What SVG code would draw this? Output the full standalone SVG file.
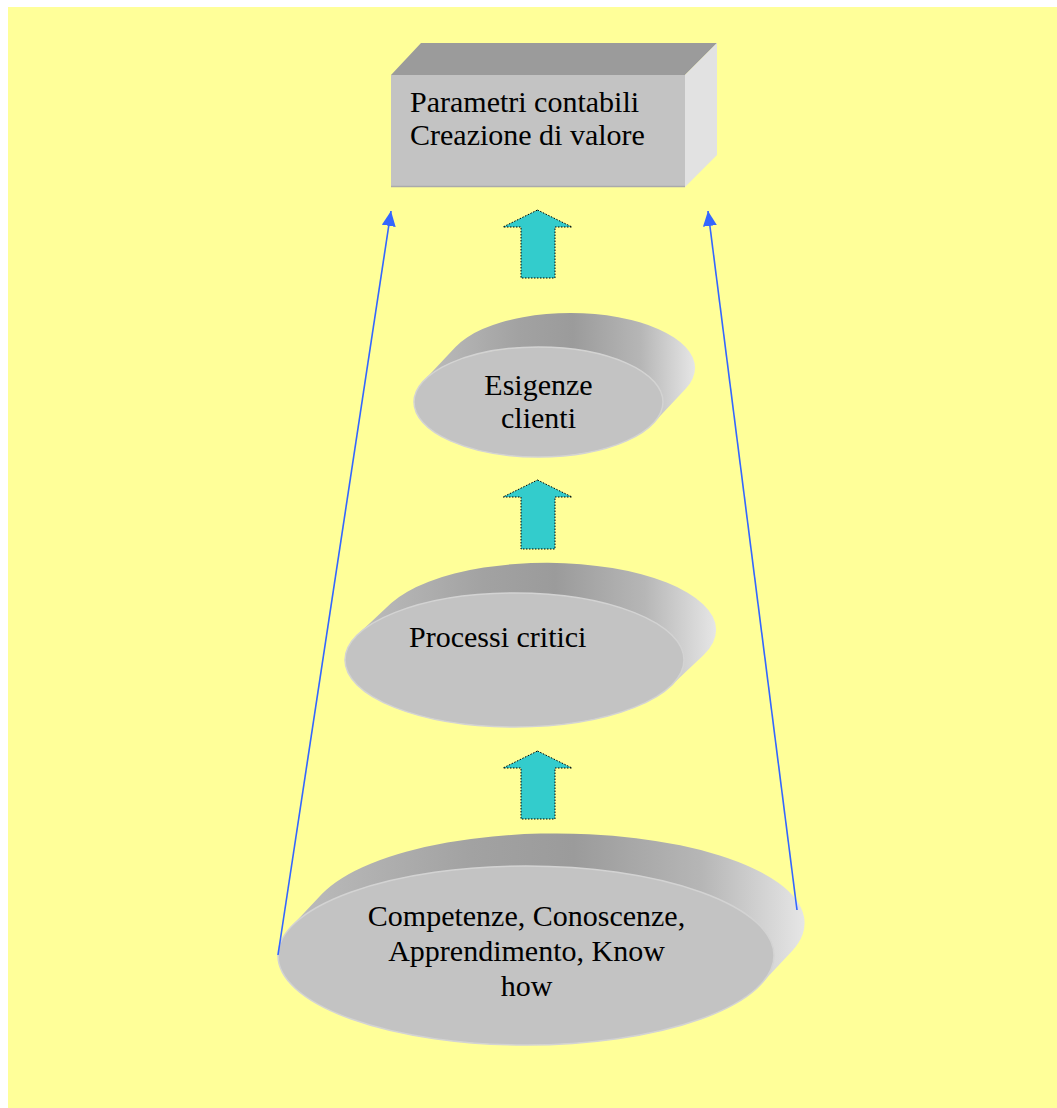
<svg xmlns="http://www.w3.org/2000/svg" width="1057" height="1108" viewBox="0 0 1057 1108">
  <style>
    .label { font-family: "Liberation Serif", "Times New Roman", serif; font-size: 30px; fill: #000000; }
    .mid { text-anchor: middle; }
    .side { fill: url(#sideShade); }
    .face { fill: #c3c3c3; stroke: #d3d3d3; stroke-width: 1.5; }
    .step { fill: #33cccc; stroke: #000000; stroke-width: 1; stroke-dasharray: 1.5 1.5; }
    .link { stroke: #3366ff; stroke-width: 1.6; fill: none; marker-end: url(#tip); }
  </style>
  <defs>
    <linearGradient id="sideShade" x1="0" y1="0" x2="1" y2="0">
      <stop offset="0" stop-color="#bcbcbc"/>
      <stop offset="0.35" stop-color="#a2a2a2"/>
      <stop offset="0.55" stop-color="#9b9b9b"/>
      <stop offset="0.8" stop-color="#b6b6b6"/>
      <stop offset="1" stop-color="#e6e6e6"/>
    </linearGradient>
    <marker id="tip" markerUnits="userSpaceOnUse" markerWidth="16" markerHeight="14" refX="15" refY="7" orient="auto">
      <path d="M0,0 L15,7 L0,14 Z" fill="#3366ff"/>
    </marker>
  </defs>

  <!-- background panel -->
  <rect x="0" y="0" width="1057" height="1108" fill="#ffffff"/>
  <rect x="8" y="7" width="1049" height="1101" fill="#ffff99"/>

  <!-- result block -->
  <g id="node-parametri">
    <polygon points="391,75 421,43 717,43 685,75" fill="#9b9b9b"/>
    <polygon points="685,75 717,43 717,155 685,187" fill="#e2e2e2"/>
    <rect x="391" y="75" width="294" height="112" fill="#c3c3c3"/>
    <line x1="391" y1="186.5" x2="685" y2="186.5" stroke="#aaaaaa" stroke-width="1.5"/>
    <text class="label" x="410" y="112">Parametri contabili</text>
    <text class="label" x="410" y="145">Creazione di valore</text>
  </g>

  <!-- customer needs disk -->
  <g id="node-esigenze">
    <path class="side" d="M423.5,380.9 L455.5,346.9 A124.5,55 0 0 1 685.5,389.1 L653.5,423.1 A124.5,55 0 0 0 423.5,380.9 Z"/>
    <ellipse class="face" cx="538.5" cy="402" rx="124.5" ry="55"/>
    <text class="label mid" x="538.5" y="395">Esigenze</text>
    <text class="label mid" x="538.5" y="428">clienti</text>
  </g>

  <!-- critical processes disk -->
  <g id="node-processi">
    <path class="side" d="M358.3,634 L391.3,603 A169.5,67 0 0 1 703.7,655 L670.7,686 A169.5,67 0 0 0 358.3,634 Z"/>
    <ellipse class="face" cx="514.5" cy="660" rx="169.5" ry="67"/>
    <text class="label" x="409" y="647">Processi critici</text>
  </g>

  <!-- competences disk -->
  <g id="node-competenze">
    <path class="side" d="M291.1,926.8 L322.1,893.8 A248,89.5 0 0 1 791.9,951.2 L760.9,984.2 A248,89.5 0 0 0 291.1,926.8 Z"/>
    <ellipse class="face" cx="526" cy="955.5" rx="248" ry="89.5"/>
    <text class="label mid" x="526.5" y="926">Competenze, Conoscenze,</text>
    <text class="label mid" x="526.5" y="961">Apprendimento, Know</text>
    <text class="label mid" x="526.5" y="996">how</text>
  </g>

  <!-- connectors -->
  <g id="connectors">
    <polygon class="step" points="537.5,210 572,227 555,227 555,278 521,278 521,227 503,227"/>
    <polygon class="step" points="537.5,480 572,497 555,497 555,549 521,549 521,497 503,497"/>
    <polygon class="step" points="537.5,751 572,768 555,768 555,819 521,819 521,768 503,768"/>
    <line class="link" x1="278" y1="955" x2="391" y2="211"/>
    <line class="link" x1="797" y1="910" x2="708" y2="211"/>
  </g>
</svg>
